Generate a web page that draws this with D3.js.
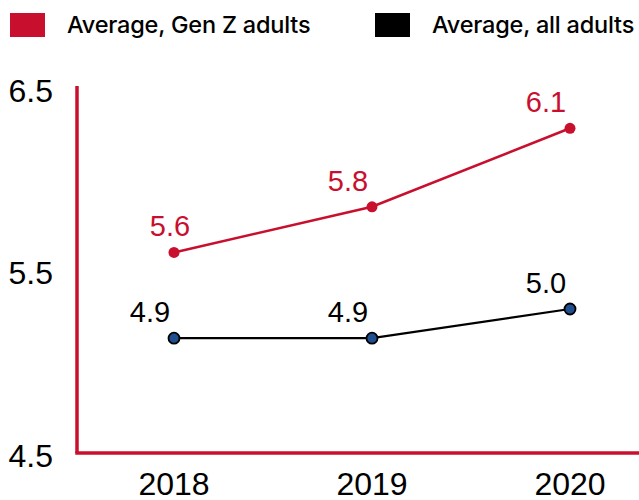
<!DOCTYPE html>
<html>
<head>
<meta charset="utf-8">
<script src="https://cdn.jsdelivr.net/npm/d3@7"></script>
<style>
  html, body { margin: 0; padding: 0; background: #fff; }
  svg { display: block; }
</style>
</head>
<body>
<div id="chart"></div>
<script>
/* data */
const years        = ['2018', '2019', '2020'];
const genZValues   = [5.61, 5.86, 6.29];     // plotted positions
const genZLabels   = ['5.6', '5.8', '6.1'];  // printed labels
const allValues    = [5.14, 5.14, 5.30];
const allLabels    = ['4.9', '4.9', '5.0'];
const yTicks       = [4.5, 5.5, 6.5];
const legendNames  = ['Average, Gen Z adults', 'Average, all adults'];

const RED   = '#c8102e';
const BLUE  = '#1f4f8f';
const WIDTH = 639, HEIGHT = 500;
const AXISF = '"Liberation Sans", Arial, sans-serif';

const svg = d3.select('#chart').append('svg')
  .attr('width', WIDTH)
  .attr('height', HEIGHT);

const x = d3.scalePoint().domain(years).range([174, 570]);
const y = d3.scaleLinear().domain([4.5, 6.5]).range([455, 90]);

/* ── legend ── */
const legend = [
  {name: legendNames[0], color: RED, x: 10},
  {name: legendNames[1], color: '#000', x: 375}
];
legend.forEach(l => {
  svg.append('rect')
     .attr('x', l.x).attr('y', 13)
     .attr('width', 35).attr('height', 24)
     .attr('fill', l.color);
  svg.append('text')
     .attr('x', l.x + 57).attr('y', 33)
     .attr('font-family', 'Inter, sans-serif')
     .attr('font-weight', 500)
     .attr('font-size', 23.5)
     .attr('letter-spacing', -0.2)
     .attr('fill', '#000')
     .text(l.name);
});

/* ── axes ── */
const axisLeftX = 77, axisBottomY = 453;
svg.append('line')
   .attr('x1', axisLeftX).attr('x2', axisLeftX)
   .attr('y1', 86).attr('y2', axisBottomY)
   .attr('stroke', RED).attr('stroke-width', 3.5);
svg.append('line')
   .attr('x1', axisLeftX - 1.75).attr('x2', WIDTH)
   .attr('y1', axisBottomY).attr('y2', axisBottomY)
   .attr('stroke', RED).attr('stroke-width', 3.5);

svg.selectAll('.ytick')
   .data(yTicks)
   .enter().append('text')
   .attr('class', 'ytick')
   .attr('x', 53)
   .attr('y', d => y(d))
   .attr('dy', '0.36em')
   .attr('text-anchor', 'end')
   .attr('font-family', AXISF)
   .attr('font-size', 32)
   .attr('fill', '#000')
   .text(d => d.toFixed(1));

svg.selectAll('.xtick')
   .data(years)
   .enter().append('text')
   .attr('class', 'xtick')
   .attr('x', d => x(d))
   .attr('y', 495)
   .attr('text-anchor', 'middle')
   .attr('font-family', AXISF)
   .attr('font-size', 32)
   .attr('fill', '#000')
   .text(d => d);

/* ── series ── */
const line = d3.line()
  .x((d, i) => x(years[i]))
  .y(d => y(d));

function drawSeries(values, labels, stroke, dotFill, dotStroke, r, lw) {
  svg.append('path')
     .datum(values)
     .attr('fill', 'none')
     .attr('stroke', stroke)
     .attr('stroke-width', lw)
     .attr('d', line);
  svg.selectAll(null)
     .data(values)
     .enter().append('circle')
     .attr('cx', (d, i) => x(years[i]))
     .attr('cy', d => y(d))
     .attr('r', r)
     .attr('fill', dotFill)
     .attr('stroke', dotStroke)
     .attr('stroke-width', dotStroke === 'none' ? 0 : 1.8);
  svg.selectAll(null)
     .data(values)
     .enter().append('text')
     .attr('x', (d, i) => x(years[i]) + (i === 0 && stroke === RED ? -4 : -24))
     .attr('y', d => y(d) - 16)
     .attr('text-anchor', 'middle')
     .attr('font-family', AXISF)
     .attr('font-size', 29)
     .attr('fill', stroke)
     .text((d, i) => labels[i]);
}

drawSeries(genZValues, genZLabels, RED, RED, 'none', 5.5, 2.6);
drawSeries(allValues, allLabels, '#000', BLUE, '#000', 5.5, 2.2);
</script>
</body>
</html>
